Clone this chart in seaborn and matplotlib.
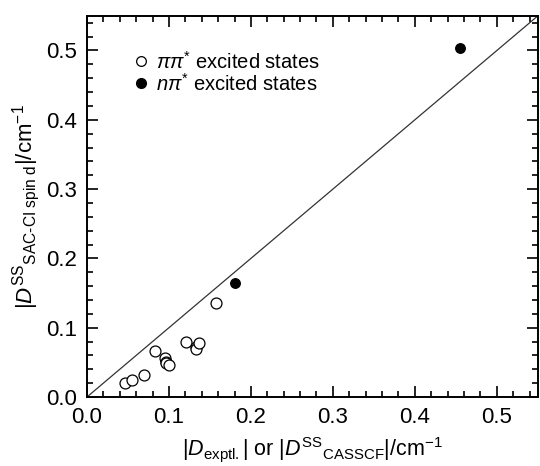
import numpy as np
import pandas as pd
import matplotlib
matplotlib.use("Agg")
import matplotlib.pyplot as plt
import matplotlib.ticker as mticker
from matplotlib.lines import Line2D
import seaborn as sns

# ── Data ──────────────────────────────────────────────────────────────────────
pipi_x = [0.046, 0.055, 0.070, 0.083, 0.095, 0.097, 0.096, 0.100, 0.121, 0.133, 0.133, 0.137, 0.157]
pipi_y = [0.020, 0.025, 0.032, 0.066, 0.057, 0.051, 0.049, 0.046, 0.080, 0.072, 0.069, 0.078, 0.135]
npi_x = [0.181, 0.455]
npi_y = [0.165, 0.503]

AX_MAX = 0.55

# ── Style ─────────────────────────────────────────────────────────────────────
sns.set_style("ticks")
plt.rcParams['font.family'] = ['Liberation Sans', 'DejaVu Sans']
plt.rcParams['mathtext.fontset'] = 'custom'
plt.rcParams['mathtext.rm'] = 'Liberation Sans'
plt.rcParams['mathtext.it'] = 'Liberation Sans:italic'
plt.rcParams['mathtext.bf'] = 'Liberation Sans:bold'
for key in ['text.color', 'axes.labelcolor', 'xtick.color', 'ytick.color', 'axes.edgecolor']:
    plt.rcParams[key] = 'black'

df_pipi = pd.DataFrame({'x': pipi_x, 'y': pipi_y})
df_npi = pd.DataFrame({'x': npi_x, 'y': npi_y})

fig = plt.figure(figsize=(5.4, 4.66), dpi=100)
ax = fig.add_axes([0.161, 0.148, 0.835, 0.818])

ax.axline((0, 0), slope=1, color='#333333', linewidth=0.9, zorder=1)

sns.scatterplot(data=df_pipi, x='x', y='y', ax=ax, marker='o', s=62,
                facecolor='white', edgecolor='black', linewidth=0.9, zorder=3)
sns.scatterplot(data=df_npi, x='x', y='y', ax=ax, marker='o', s=48,
                color='black', edgecolor='black', linewidth=0.9, zorder=3)

ax.set_xlim(0, AX_MAX)
ax.set_ylim(0, AX_MAX)
ax.xaxis.set_major_locator(mticker.MultipleLocator(0.1))
ax.yaxis.set_major_locator(mticker.MultipleLocator(0.1))
ax.xaxis.set_minor_locator(mticker.MultipleLocator(0.02))
ax.yaxis.set_minor_locator(mticker.MultipleLocator(0.02))
ax.xaxis.set_major_formatter(mticker.FormatStrFormatter('%.1f'))
ax.yaxis.set_major_formatter(mticker.FormatStrFormatter('%.1f'))
ax.tick_params(which='both', direction='in', top=True, right=True, width=1.2, labelsize=16, pad=7)
ax.tick_params(which='major', length=8)
ax.tick_params(which='minor', length=4.5)
for sp in ax.spines.values():
    sp.set_linewidth(1.4)

ax.set_xlabel(r'$|\mathit{D}_{\mathrm{exptl.}}|\ \mathrm{or}\ |\mathit{D}^{\mathrm{SS}}{}_{\mathrm{CASSCF}}|/\mathrm{cm}^{-1}$',
              fontsize=15.5, labelpad=5)
ax.set_ylabel(r'$|\mathit{D}^{\mathrm{SS}}{}_{\mathrm{SAC\text{-}CI\ spin\ d}}|/\mathrm{cm}^{-1}$',
              fontsize=16, labelpad=3)

handles = [
    Line2D([], [], marker='o', linestyle='none', markersize=7,
           markerfacecolor='white', markeredgecolor='black', markeredgewidth=0.9),
    Line2D([], [], marker='o', linestyle='none', markersize=7,
           markerfacecolor='black', markeredgecolor='black'),
]
labels = [r'$\pi\pi^{*}$ excited states', r'$n\pi^{*}$ excited states']
ax.legend(handles, labels, loc='upper left', bbox_to_anchor=(0.08, 0.93), frameon=False,
          fontsize=14.5, handletextpad=0.25, labelspacing=0.0, handlelength=1.0, borderaxespad=0)

fig.savefig('out.png', dpi=100)
